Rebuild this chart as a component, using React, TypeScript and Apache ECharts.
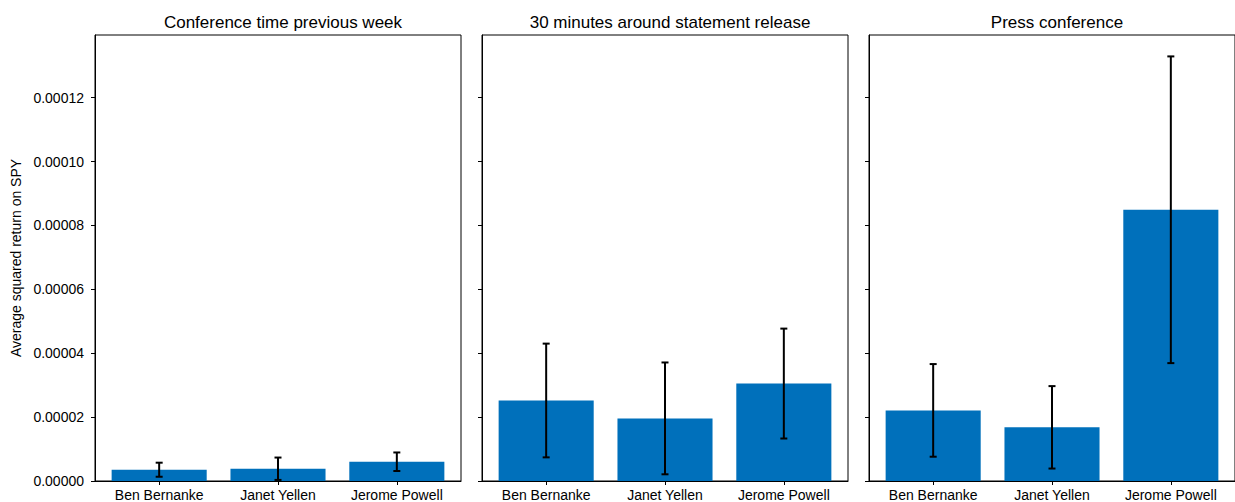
import React, { useEffect, useRef } from "react";
import * as echarts from "echarts";

// Speakers compared in every panel
const categories = ["Ben Bernanke", "Janet Yellen", "Jerome Powell"];
const panelTitles = [
  "Conference time previous week",
  "30 minutes around statement release",
  "Press conference",
];

// Average squared SPY return (mean) and error-bar half-widths per window
const meanPrevWeek = [3.53e-6, 3.84e-6, 6.03e-6];
const errPrevWeek = [2.2e-6, 3.5e-6, 2.9e-6];
const meanStatement = [2.52e-5, 1.96e-5, 3.05e-5];
const errStatement = [1.78e-5, 1.75e-5, 1.72e-5];
const meanPress = [2.21e-5, 1.68e-5, 8.49e-5];
const errPress = [1.45e-5, 1.29e-5, 4.8e-5];

const yTicks = [0, 0.00002, 0.00004, 0.00006, 0.00008, 0.0001, 0.00012];
const yLabel = "Average squared return on SPY";

const FONT = "'Liberation Sans', Arial, Helvetica, sans-serif";
const BAR_COLOR = "#0070BB";

export default function App() {
  const ref = useRef<HTMLDivElement>(null);

  useEffect(() => {
    if (!ref.current) return;
    const chart = echarts.init(ref.current, undefined, { renderer: "svg" });

    const means = [meanPrevWeek, meanStatement, meanPress];
    const errs = [errPrevWeek, errStatement, errPress];

    const gridLefts = [95, 482, 869];
    const gridWidth = 366;
    const gridTop = 35;
    const gridHeight = 447;
    const xMin = -0.54;
    const xMax = 2.54;
    const yMax = 0.0001396;
    const barWidth = (0.8 / (xMax - xMin)) * gridWidth;

    const grids = gridLefts.map((left) => ({
      left,
      top: gridTop,
      width: gridWidth,
      height: gridHeight,
      show: true,
      borderColor: "#000",
      borderWidth: 1,
      backgroundColor: "transparent",
      containLabel: false,
    }));

    const xAxes = gridLefts.map((_, i) => ({
      type: "value",
      gridIndex: i,
      min: xMin,
      max: xMax,
      splitLine: { show: false },
      axisLine: { show: true, onZero: false, lineStyle: { color: "#000", width: 1 } },
      axisTick: {
        show: true,
        length: 4,
        inside: false,
        customValues: [0, 1, 2],
        lineStyle: { color: "#000", width: 1 },
      },
      axisLabel: {
        show: true,
        customValues: [0, 1, 2],
        formatter: (v: number) => categories[Math.round(v)] ?? "",
        color: "#000",
        fontSize: 14,
        fontFamily: FONT,
        margin: 7,
      },
    }));

    const yAxes = gridLefts.map((_, i) => ({
      type: "value",
      gridIndex: i,
      min: 0,
      max: yMax,
      splitLine: { show: false },
      name: i === 0 ? yLabel : "",
      nameLocation: "middle",
      nameGap: 72,
      nameRotate: 90,
      nameTextStyle: { color: "#000", fontSize: 14, fontFamily: FONT },
      axisLine: { show: true, onZero: false, lineStyle: { color: "#000", width: 1 } },
      axisTick: {
        show: true,
        length: 4,
        inside: false,
        customValues: yTicks,
        lineStyle: { color: "#000", width: 1 },
      },
      axisLabel: {
        show: i === 0,
        customValues: yTicks,
        formatter: (v: number) => v.toFixed(5),
        color: "#000",
        fontSize: 14,
        fontFamily: FONT,
        margin: 11,
      },
    }));

    const series: any[] = [];
    means.forEach((m, i) => {
      series.push({
        type: "bar",
        xAxisIndex: i,
        yAxisIndex: i,
        barWidth,
        itemStyle: { color: BAR_COLOR },
        data: m.map((v, j) => [j, v]),
      });
      series.push({
        type: "custom",
        xAxisIndex: i,
        yAxisIndex: i,
        clip: false,
        z: 5,
        data: m.map((v, j) => [j, v - errs[i][j], v + errs[i][j]]),
        renderItem: (_params: any, api: any) => {
          const x = api.value(0);
          const lo = api.coord([x, api.value(1)]);
          const hi = api.coord([x, api.value(2)]);
          const cap = 3.5;
          const style = { stroke: "#000", lineWidth: 2 };
          return {
            type: "group",
            children: [
              { type: "line", shape: { x1: lo[0], y1: lo[1], x2: hi[0], y2: hi[1] }, style },
              { type: "line", shape: { x1: lo[0] - cap, y1: lo[1], x2: lo[0] + cap, y2: lo[1] }, style },
              { type: "line", shape: { x1: hi[0] - cap, y1: hi[1], x2: hi[0] + cap, y2: hi[1] }, style },
            ],
          };
        },
      });
    });

    const titles = panelTitles.map((text, i) => ({
      text,
      left: gridLefts[i] + gridWidth / 2,
      top: 9,
      textAlign: "center",
      textStyle: { color: "#000", fontSize: 17, fontWeight: "normal", fontFamily: FONT },
    }));

    chart.setOption({
      animation: false,
      backgroundColor: "#fff",
      title: titles,
      grid: grids,
      xAxis: xAxes,
      yAxis: yAxes,
      series,
    });

    return () => chart.dispose();
  }, []);

  return (
    <div
      ref={ref}
      style={{ position: "fixed", left: 0, top: 0, width: 1235, height: 502, background: "#fff" }}
    />
  );
}
